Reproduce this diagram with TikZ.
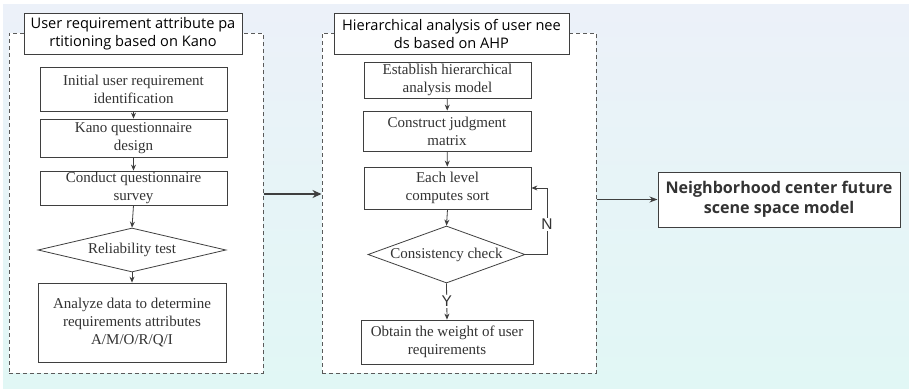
\documentclass[tikz,border=0pt]{standalone}
\usepackage{fontspec}
\setmainfont{Liberation Serif}
\newfontfamily\titlefont{Open Sans}
\newfontfamily\labelfont{Liberation Sans}
\usetikzlibrary{shapes.geometric,arrows.meta,calc}
\definecolor{linegray}{HTML}{3F3F3F}
\definecolor{dashgray}{HTML}{5A5A5A}
\definecolor{txtgray}{HTML}{333333}
\definecolor{bgtop}{HTML}{ECF1F9}
\definecolor{bgmid}{HTML}{F0F6E6}
\definecolor{bgbot}{HTML}{E1F7F5}
\tikzset{
  dashbox/.style={draw=dashgray, line width=1pt, dash pattern=on 4pt off 3pt, fill=white, inner sep=0pt},
  titlebox/.style={draw=linegray, line width=1pt, fill=white, align=center, inner sep=0pt,
    font=\titlefont\fontsize{14.6}{18}\selectfont, text=black},
  stepbox/.style={draw=linegray, line width=0.8pt, fill=white, align=center, inner sep=0pt,
    font=\fontsize{15}{18}\selectfont, text=txtgray},
  decisionbox/.style={diamond, draw=linegray, line width=0.8pt, fill=white, align=center, inner sep=0pt,
    font=\fontsize{15}{18}\selectfont, text=txtgray},
  finalbox/.style={draw=linegray, line width=1pt, fill=white, align=center, inner sep=0pt,
    font=\titlefont\bfseries\fontsize{16.1}{20}\selectfont, text=txtgray},
  flow/.style={draw=linegray, line width=0.8pt, -{Stealth[length=6pt,width=5pt]}},
  bigflow/.style={draw=linegray, line width=2pt, -{Stealth[length=9pt,width=8pt]}},
  midflow/.style={draw=linegray, line width=1.1pt, -{Stealth[length=8pt,width=6pt]}},
  yn/.style={fill=white, inner sep=1.5pt, font=\labelfont\fontsize{15.5}{15.5}\selectfont, text=txtgray}
}
\begin{document}
\begin{tikzpicture}[x=1pt,y=-1pt]
\useasboundingbox (0,0) rectangle (909,388);
\fill[white] (0,0) rectangle (909,388);
\shade[top color=bgtop, middle color=bgmid, bottom color=bgbot] (3,4) rectangle (909,388);

% dashed containers
\node[dashbox, minimum width=254, minimum height=340] (kano) at (136,203) {};
\node[dashbox, minimum width=274, minimum height=340] (ahp) at (459,203) {};

% titles
\node[titlebox, minimum width=218, minimum height=41] (t1) at (133,33.5)
  {User requirement attribute pa\\rtitioning based on Kano};
\node[titlebox, minimum width=235, minimum height=41] (t2) at (451.5,33.5)
  {Hierarchical analysis of user nee\\ds based on AHP};

% left column
\node[stepbox, minimum width=187, minimum height=44] (k1) at (133.5,89)
  {Initial user requirement\\identification};
\node[stepbox, minimum width=187, minimum height=38] (k2) at (133.5,138)
  {Kano questionnaire\\design};
\node[stepbox, minimum width=187, minimum height=34] (k3) at (133.5,188)
  {Conduct questionnaire\\survey};
\node[decisionbox, minimum width=188, minimum height=44, aspect=4.27] (k4) at (132,250)
  {Reliability test};
\node[stepbox, minimum width=188, minimum height=79] (k5) at (132,322.5)
  {Analyze data to determine\\requirements attributes\\A/M/O/R/Q/I};

\draw[flow] (k1) -- (k2);
\draw[flow] (k2) -- (k3);
\draw[flow] (k3.south) -- (k4.north);
\draw[flow] (k4.south) -- (k5.north);

% middle column
\node[stepbox, minimum width=167, minimum height=36] (a1) at (447.5,80)
  {Establish hierarchical\\analysis model};
\node[stepbox, minimum width=168, minimum height=40] (a2) at (447,131)
  {Construct judgment\\matrix};
\node[stepbox, minimum width=167, minimum height=42] (a3) at (447.5,188)
  {Each level\\computes sort};
\node[decisionbox, minimum width=157, minimum height=57, aspect=2.75] (a4) at (446.5,254.5)
  {Consistency check};
\node[stepbox, minimum width=172, minimum height=44] (a5) at (447,342)
  {Obtain the weight of user\\requirements};

\draw[flow] (a1) -- (a2);
\draw[flow] (a2) -- (a3);
\draw[flow] (a3.south) -- (a4.north);
\draw[flow] (a4.south) -- node[yn] {Y} (a5.north);
\coordinate (loop) at (547,254.5);
\draw[draw=linegray, line width=0.8pt] (a4.east) -- (loop);
\draw[flow] (loop) -- node[yn, pos=0.45] {N} (loop |- a3.east) -- (a3.east);

% final
\node[finalbox, minimum width=242, minimum height=55] (fin) at (779,199.5)
  {Neighborhood center future\\scene space model};

\coordinate (y1) at (0,194);
\draw[bigflow] (kano.east |- y1) -- (ahp.west |- y1);
\draw[midflow] (ahp.east |- fin.west) -- (fin.west);
\end{tikzpicture}
\end{document}
